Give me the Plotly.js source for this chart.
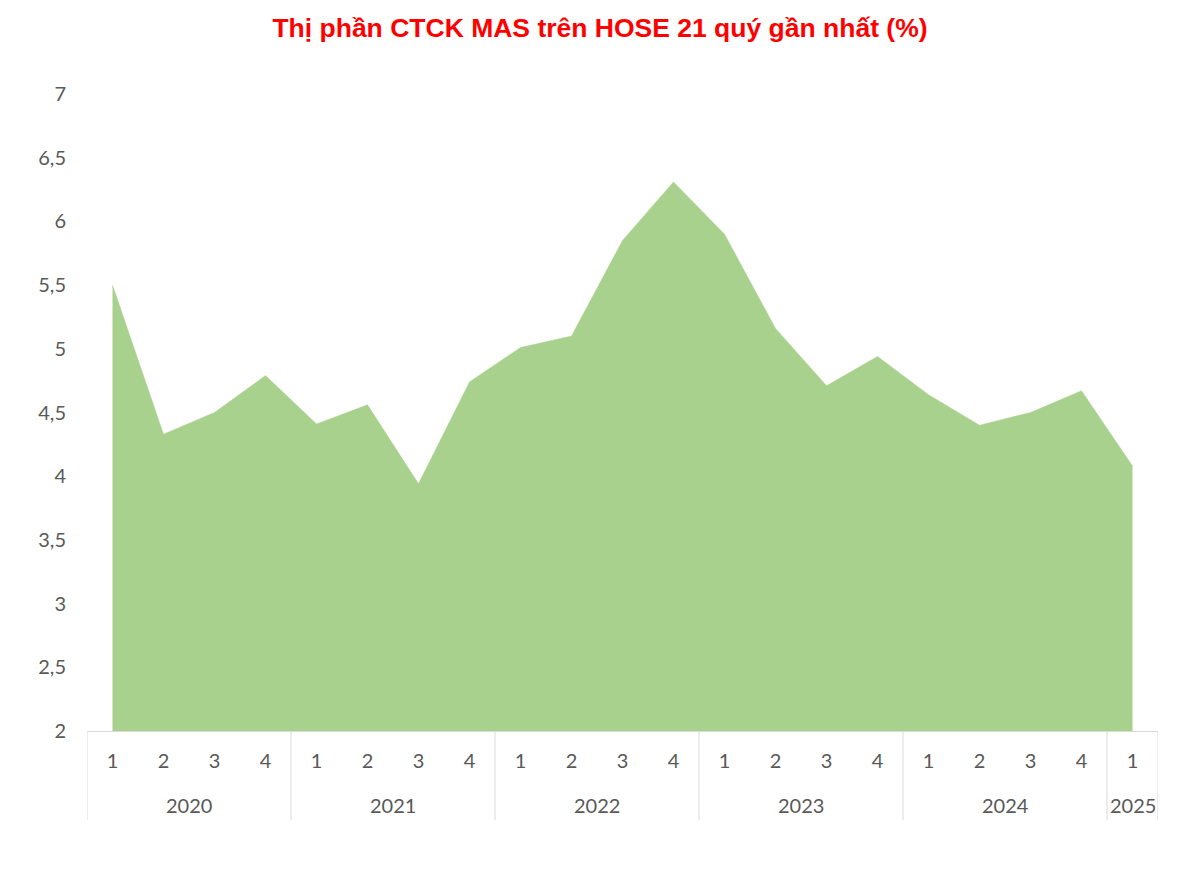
<!DOCTYPE html>
<html>
<head>
<meta charset="utf-8">
<script src="https://cdn.plot.ly/plotly-3.0.1.min.js"></script>
<style>
  html, body { margin: 0; padding: 0; background: #fff; }
  #chart { width: 1200px; height: 872px; }
</style>
</head>
<body>
<div id="chart"></div>
<script>
// nam va quy
var nam = ['2020','2020','2020','2020','2021','2021','2021','2021','2022','2022','2022','2022',
           '2023','2023','2023','2023','2024','2024','2024','2024','2025'];
var quy = ['1','2','3','4','1','2','3','4','1','2','3','4','1','2','3','4','1','2','3','4','1'];
// thi phan (%)
var thiPhan = [5.50, 4.33, 4.50, 4.79, 4.41, 4.56, 3.94, 4.74, 5.01, 5.10, 5.85, 6.31,
               5.90, 5.16, 4.71, 4.94, 4.64, 4.40, 4.50, 4.67, 4.08];

var viTri = quy.map(function(q, i){ return i; });

// nhom theo nam: vi tri bat dau / ket thuc
var nhom = [];
nam.forEach(function(n, i){
  var cuoi = nhom[nhom.length - 1];
  if(cuoi && cuoi.ten === n){ cuoi.den = i; }
  else{ nhom.push({ten: n, tu: i, den: i}); }
});

var trucChu = {family: 'Lato, Open Sans, sans-serif', size: 20, color: '#595959'};

var chuNam = nhom.map(function(g){
  return {
    x: (g.tu + g.den) / 2, xref: 'x',
    y: 0, yref: 'paper', yanchor: 'middle', yshift: -74,
    text: g.ten, showarrow: false, font: trucChu
  };
});

var vach = [];
nhom.forEach(function(g, i){
  vach.push({type: 'line', xref: 'x', yref: 'paper', x0: g.tu - 0.5, x1: g.tu - 0.5,
    y0: 0, y1: -0.14, line: {color: '#d9d9d9', width: 1}});
  if(i === nhom.length - 1){
    vach.push({type: 'line', xref: 'x', yref: 'paper', x0: g.den + 0.5, x1: g.den + 0.5,
      y0: 0, y1: -0.14, line: {color: '#d9d9d9', width: 1}});
  }
});

var trace = {
  x: viTri,
  y: thiPhan,
  type: 'scatter',
  mode: 'lines',
  fill: 'tozeroy',
  fillcolor: '#a9d18e',
  line: {color: '#a9d18e', width: 0.5},
  hoverinfo: 'y'
};

var layout = {
  width: 1200,
  height: 872,
  margin: {l: 87, r: 42, t: 94, b: 141},
  paper_bgcolor: '#fff',
  plot_bgcolor: '#fff',
  separators: ',.',
  showlegend: false,
  title: {
    text: '<b>Thị phần CTCK MAS trên HOSE 21 quý gần nhất (%)</b>',
    font: {family: 'Liberation Sans, Arial, sans-serif', size: 26.5, color: '#ff0000'},
    x: 0.5, xanchor: 'center', y: 0.968, yanchor: 'middle'
  },
  xaxis: {
    range: [-0.5, 20.5],
    tickmode: 'array',
    tickvals: viTri,
    ticktext: quy,
    showline: true,
    linecolor: '#d9d9d9',
    linewidth: 1,
    showgrid: false,
    zeroline: false,
    ticks: '',
    ticklabelstandoff: 12,
    tickfont: trucChu
  },
  yaxis: {
    range: [2, 7],
    dtick: 0.5,
    tick0: 2,
    showgrid: false,
    zeroline: false,
    showline: false,
    ticks: '',
    ticklabelstandoff: 20,
    tickfont: trucChu
  },
  annotations: chuNam,
  shapes: vach
};

Plotly.newPlot('chart', [trace], layout, {displayModeBar: false, staticPlot: true});
</script>
</body>
</html>
